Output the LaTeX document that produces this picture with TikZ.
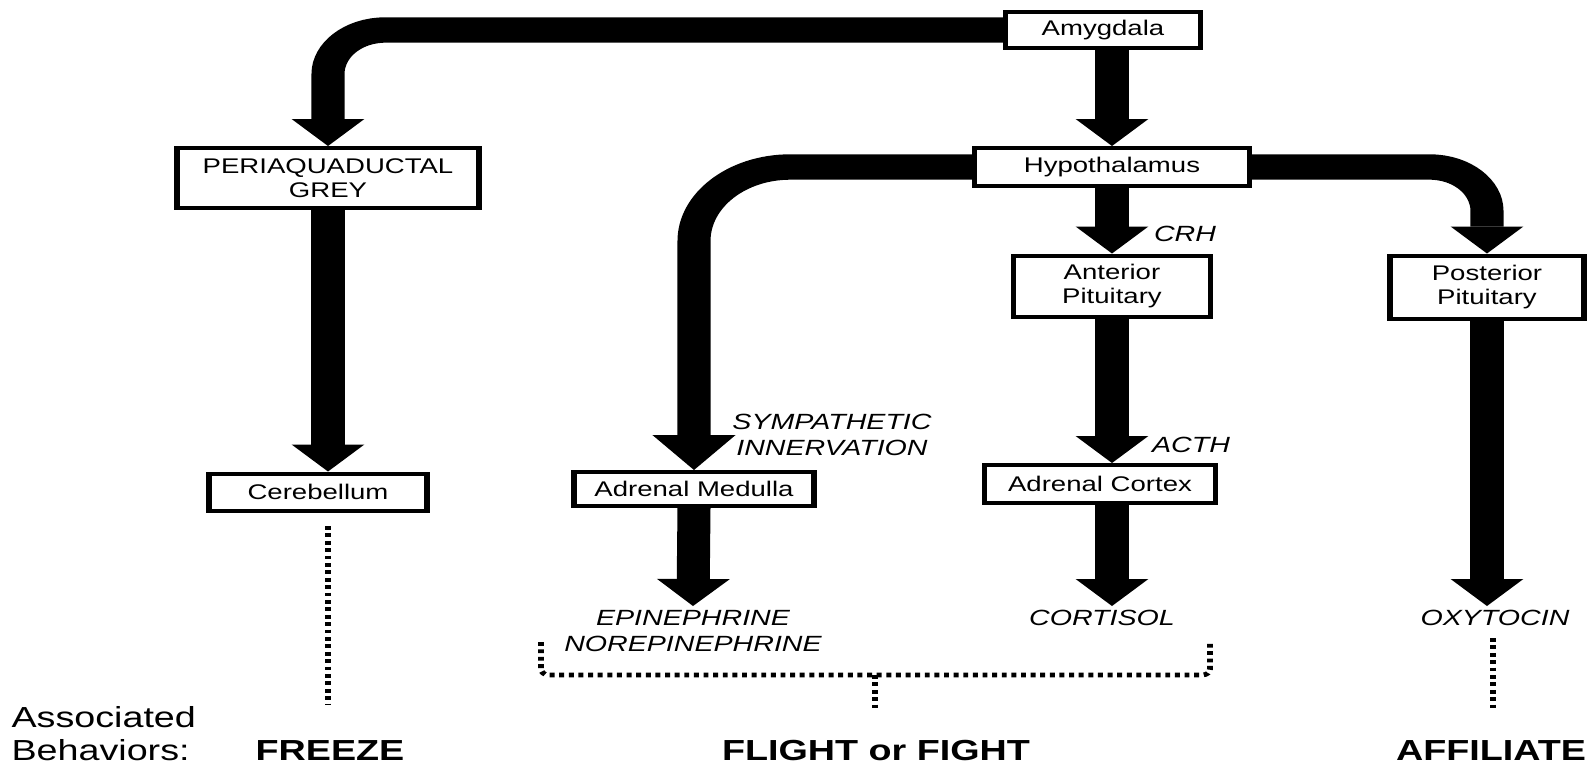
\documentclass[tikz,border=0pt]{standalone}
\usepackage{fontspec}
\setmainfont{Liberation Sans}
\usetikzlibrary{arrows.meta}
\begin{document}
\begin{tikzpicture}
\fill[white] (0,0) rectangle (796pt,-383.5pt);
\useasboundingbox (0,0) rectangle (796pt,-383.5pt);
\begin{scope}[transform canvas={xscale=1.3}, x=0.384615pt, y=-0.5pt,
  box/.style={draw=black, line width=2pt, fill=white, inner sep=0pt, align=center,
              font=\fontsize{10.6}{12.2}\selectfont},
  lbl/.style={inner sep=2pt, align=center, font=\fontsize{11}{13}\selectfont\itshape},
  beh/.style={inner sep=0pt, font=\fontsize{14.5}{16.5}\selectfont\bfseries},
  flow/.style={line width=12.7pt, -{Triangle[width=28pt,length=13.5pt,line width=0pt]}},
  bigflow/.style={line width=12.7pt, -{Triangle[width=32pt,length=17.5pt,line width=0pt]}},
  dots/.style={line width=2.3pt, dash pattern=on 1.9pt off 1.8pt}
]
% boxes
\node[box, minimum width=75pt,   minimum height=18pt]   (amy)  at (1103,30)  {Amygdala};
\node[box, minimum width=105.8pt, minimum height=19pt]  (hyp)  at (1112,167) {Hypothalamus};
\node[box, minimum width=116.2pt, minimum height=30pt]  (pag)  at (328,178)  {PERIAQUADUCTAL\\GREY};
\node[box, minimum width=83.8pt, minimum height=18.5pt] (cer)  at (318,492)  {Cerebellum};
\node[box, minimum width=75.8pt, minimum height=30.5pt] (ant)  at (1112,286) {Anterior\\Pituitary};
\node[box, minimum width=74.6pt, minimum height=31.5pt] (post) at (1487,287) {Posterior\\Pituitary};
\node[box, minimum width=92.3pt, minimum height=17pt]   (med)  at (694,489)  {Adrenal Medulla};
\node[box, minimum width=88.8pt, minimum height=19pt]   (cor)  at (1100,484) {Adrenal Cortex};
% labels
\node[lbl] (crh)  at (1185,234) {CRH};
\node[lbl] (acth) at (1191,445) {ACTH};
\node[lbl] (symp) at (832,435) {SYMPATHETIC\\INNERVATION};
\node[lbl, anchor=north] (epi)  at (693,606)  {EPINEPHRINE\\NOREPINEPHRINE};
\node[lbl, anchor=north] (cort) at (1102,606) {CORTISOL};
\node[lbl, anchor=north] (oxy)  at (1495,606) {OXYTOCIN};
% behaviours
\node[inner sep=0pt, anchor=west, align=left, font=\fontsize{14.5}{16.5}\selectfont] (assoc) at (11,734) {Associated\\Behaviors:};
\node[beh, anchor=base] (freeze) at (330,760)  {FREEZE};
\node[beh, anchor=base] (fof)    at (876,760)  {FLIGHT or FIGHT};
\node[beh, anchor=base] (aff)    at (1491,760) {AFFILIATE};
% thick connectors
\draw[flow, rounded corners=22pt] (amy.west) -| (pag.north);
\draw[flow] (amy.south -| hyp.north) -- (hyp.north);
\draw[flow] (pag.south) -- (pag.south |- cer.north);
\draw[bigflow, rounded corners=37pt] (hyp.west) -| (med.north);
\draw[flow, rounded corners=22pt] (hyp.east) -| (post.north);
\draw[flow] (hyp.south) -- (ant.north);
\draw[flow] (ant.south) -- (ant.south |- cor.north);
\draw[flow] (cor.south -| hyp.south) -- (cort.north -| hyp.south);
\draw[flow] (med.south) -- (epi.north);
\draw[flow] (post.south) -- (post.south |- oxy.north);
% dotted connectors
\coordinate (fz1) at (328,526);
\coordinate (fz2) at (328,704);
\draw[dots] (fz1) -- (fz2);
\coordinate (af1) at (1493,638);
\coordinate (af2) at (1493,708);
\draw[dots] (af1) -- (af2);
\coordinate (bl) at (541,642);
\coordinate (br) at (1210,642);
\coordinate (bm) at (875,675);
\coordinate (bs) at (875,708);
\draw[dots, rounded corners=3pt] (bl) |- (bm) -| (br);
\draw[dots] (bm) -- (bs);
\end{scope}
\end{tikzpicture}
\end{document}
